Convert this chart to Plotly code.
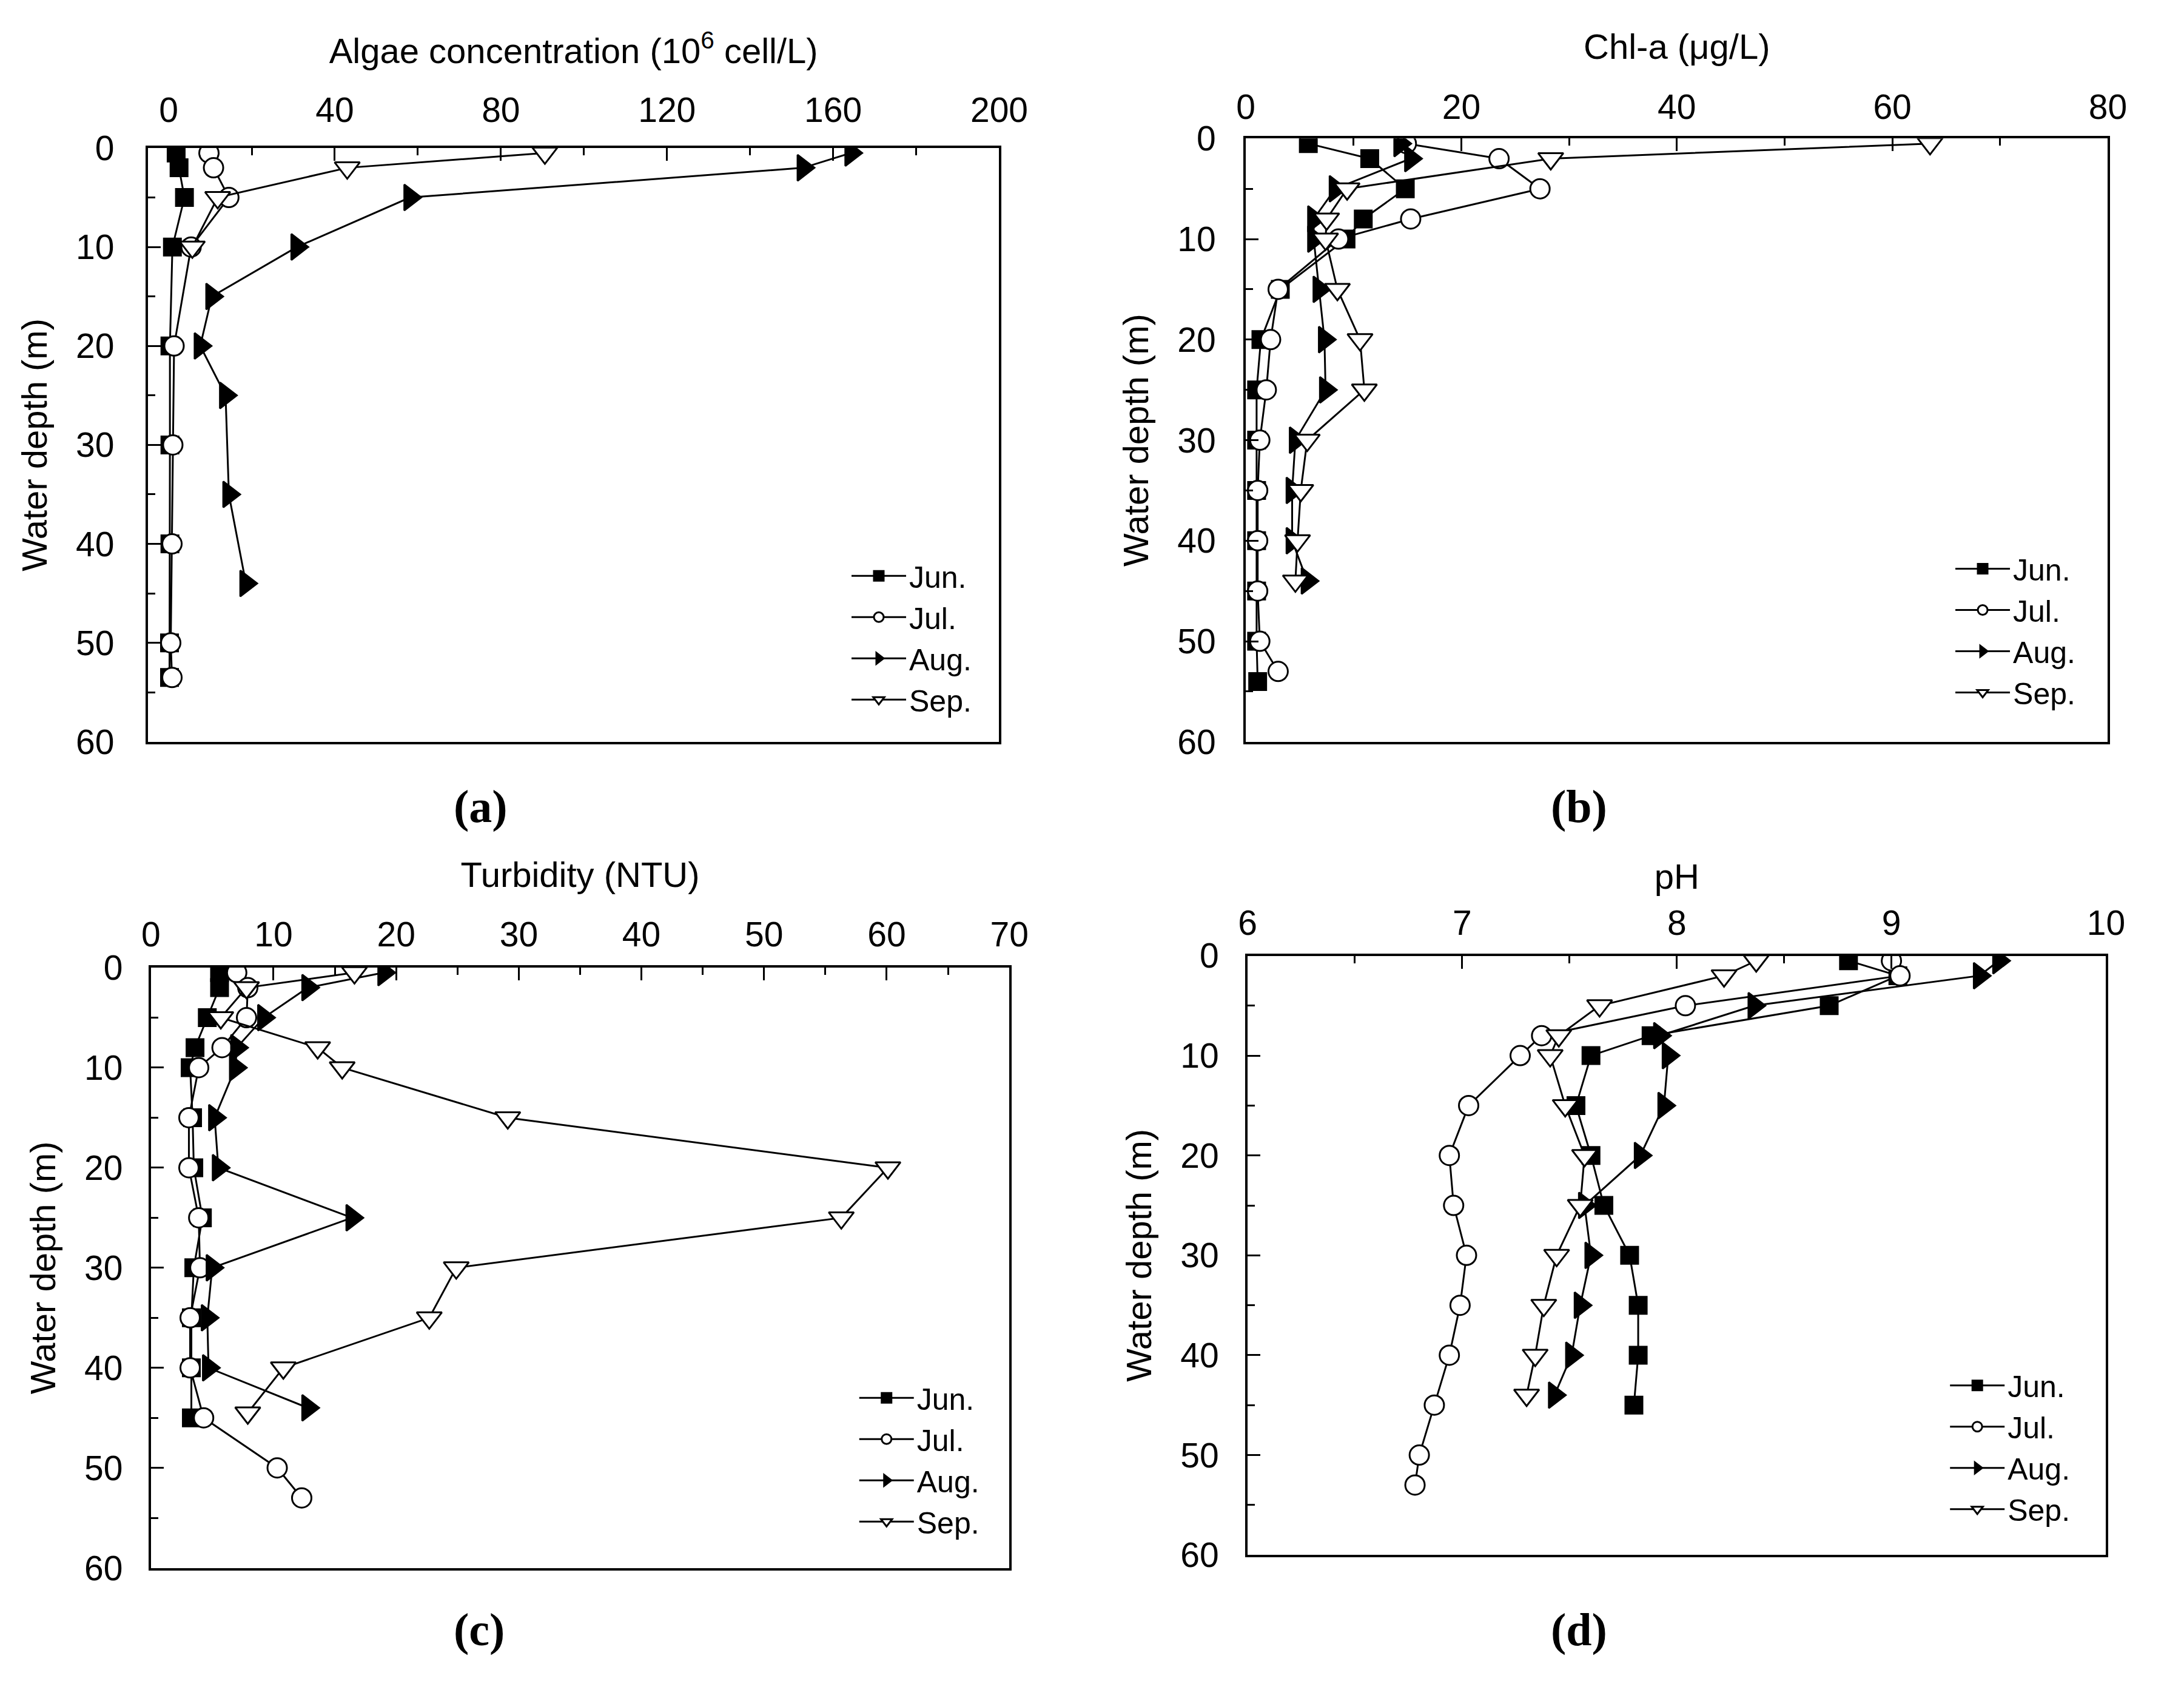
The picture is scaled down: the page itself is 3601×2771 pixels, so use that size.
import plotly.graph_objects as go

W, H = 3601, 2771

# ---------------- data ----------------
months = ["Jun.", "Jul.", "Aug.", "Sep."]

# (a) Algae concentration (10^6 cell/L)
a_jun_depth = [0.5, 2, 5, 10, 20, 30, 40, 50, 53.5]
a_jun_val = [1.8, 2.5, 3.8, 0.9, 0.3, 0.3, 0.3, 0.2, 0.2]
a_jul_depth = [0.5, 2, 5, 10, 20, 30, 40, 50, 53.5]
a_jul_val = [9.7, 10.8, 14.5, 5.4, 1.3, 1.0, 0.8, 0.5, 0.8]
a_aug_depth = [0.5, 2, 5, 10, 15, 20, 25, 35, 44]
a_aug_val = [164.3, 152.8, 58.1, 30.9, 10.4, 7.6, 13.7, 14.5, 18.6]
a_sep_depth = [0.5, 2, 5, 10]
a_sep_val = [90.6, 43.0, 11.8, 5.7]

# (b) Chl-a (ug/L)
b_jun_depth = [0.5, 2, 5, 8, 10, 15, 20, 25, 30, 35, 40, 45, 50, 54]
b_jun_val = [5.8, 11.5, 14.8, 10.9, 9.3, 3.2, 1.4, 1.0, 1.0, 1.0, 1.0, 1.0, 1.0, 1.1]
b_jul_depth = [0.5, 2, 5, 8, 10, 15, 20, 25, 30, 35, 40, 45, 50, 53]
b_jul_val = [14.9, 23.5, 27.3, 15.3, 8.6, 3.0, 2.3, 1.9, 1.3, 1.1, 1.1, 1.1, 1.3, 3.0]
b_aug_depth = [0.5, 2, 5, 8, 10, 15, 20, 25, 30, 35, 40, 44]
b_aug_val = [14.3, 15.3, 8.3, 6.3, 6.3, 6.8, 7.3, 7.4, 4.6, 4.3, 4.3, 5.7]
b_sep_depth = [0.5, 2, 5, 8, 10, 15, 20, 25, 30, 35, 40, 44]
b_sep_val = [63.5, 28.3, 9.4, 7.5, 7.4, 8.5, 10.6, 11.0, 5.7, 5.1, 4.8, 4.6]

# (c) Turbidity (NTU)
c_jun_depth = [0.5, 2, 5, 8, 10, 15, 20, 25, 30, 35, 40, 45]
c_jun_val = [5.6, 5.6, 4.6, 3.6, 3.2, 3.4, 3.5, 4.2, 3.5, 3.3, 3.3, 3.3]
c_jul_depth = [0.5, 2, 5, 8, 10, 15, 20, 25, 30, 35, 40, 45, 50, 53]
c_jul_val = [7.0, 7.9, 7.8, 5.8, 3.9, 3.1, 3.1, 3.9, 4.0, 3.2, 3.2, 4.3, 10.3, 12.3]
c_aug_depth = [0.5, 2, 5, 8, 10, 15, 20, 25, 30, 35, 40, 44]
c_aug_val = [19.0, 12.8, 9.2, 7.0, 6.9, 5.2, 5.5, 16.4, 5.0, 4.6, 4.7, 12.8]
c_sep_depth = [0.5, 2, 5, 8, 10, 15, 20, 25, 30, 35, 40, 44.5]
c_sep_val = [16.6, 7.8, 5.7, 13.6, 15.6, 29.1, 60.1, 56.3, 24.9, 22.7, 10.8, 7.9]

# (d) pH
d_jun_depth = [0.5, 2, 5, 8, 10, 15, 20, 25, 30, 35, 40, 45]
d_jun_val = [8.80, 9.03, 8.71, 7.88, 7.60, 7.53, 7.60, 7.66, 7.78, 7.82, 7.82, 7.80]
d_jul_depth = [0.5, 2, 5, 8, 10, 15, 20, 25, 30, 35, 40, 45, 50, 53]
d_jul_val = [9.00, 9.04, 8.04, 7.37, 7.27, 7.03, 6.94, 6.96, 7.02, 6.99, 6.94, 6.87, 6.80, 6.78]
d_aug_depth = [0.5, 2, 5, 8, 10, 15, 20, 25, 30, 35, 40, 44]
d_aug_val = [9.50, 9.41, 8.36, 7.92, 7.96, 7.94, 7.83, 7.57, 7.60, 7.55, 7.51, 7.43]
d_sep_depth = [0.5, 2, 5, 8, 10, 15, 20, 25, 30, 35, 40, 44]
d_sep_val = [8.37, 8.22, 7.64, 7.45, 7.41, 7.48, 7.57, 7.55, 7.44, 7.38, 7.34, 7.30]

panel_titles = [
    "Algae concentration (10<sup>6</sup> cell/L)",
    "Chl-a (μg/L)",
    "Turbidity (NTU)",
    "pH",
]
panel_labels = ["(a)", "(b)", "(c)", "(d)"]
y_title = "Water depth (m)"

# ---------------- styling / layout ----------------
FONT = "Liberation Sans, Arial, sans-serif"
symbols = ["square", "circle", "triangle-right", "triangle-down"]
fills = ["black", "white", "black", "white"]
msizes = [28, 32, 37, 36]

panels = [
    dict(data=[(a_jun_depth, a_jun_val), (a_jul_depth, a_jul_val), (a_aug_depth, a_aug_val), (a_sep_depth, a_sep_val)],
         xpx=(232, 1661), ypx=(217, 1219), xr=[-5, 200], dt=40, mt=20, t0=0,
         tstand=27, lstand=16, ylstand=40, ystand=30, leg=(1408, 899), lab=(791, 1328)),
    dict(data=[(b_jun_depth, b_jun_val), (b_jul_depth, b_jul_val), (b_aug_depth, b_aug_val), (b_sep_depth, b_sep_val)],
         xpx=(2075, 3522), ypx=(201, 1219), xr=[0, 80], dt=20, mt=10, t0=0,
         tstand=28, lstand=6, ylstand=34, ystand=30, leg=(3261, 887), lab=(2634, 1328)),
    dict(data=[(c_jun_depth, c_jun_val), (c_jul_depth, c_jul_val), (c_aug_depth, c_aug_val), (c_sep_depth, c_sep_val)],
         xpx=(237, 1678), ypx=(1600, 2613), xr=[0, 70], dt=10, mt=5, t0=0,
         tstand=28, lstand=8, ylstand=31, ystand=30, leg=(1421, 2286), lab=(788, 2717)),
    dict(data=[(d_jun_depth, d_jun_val), (d_jul_depth, d_jul_val), (d_aug_depth, d_aug_val), (d_sep_depth, d_sep_val)],
         xpx=(2078, 3519), ypx=(1580, 2591), xr=[6, 10], dt=1, mt=0.5, t0=6,
         tstand=5, lstand=8, ylstand=32, ystand=30, leg=(3252, 2265), lab=(2634, 2717)),
]

fig = go.Figure()
layout = dict(
    width=W, height=H,
    margin=dict(l=0, r=0, t=0, b=0),
    paper_bgcolor="white", plot_bgcolor="white",
    font=dict(family=FONT, size=57, color="black"),
    annotations=[],
)

for i, p in enumerate(panels):
    n = i + 1
    xa = "x" if n == 1 else f"x{n}"
    ya = "y" if n == 1 else f"y{n}"
    lg = "legend" if n == 1 else f"legend{n}"
    for k, (dep, val) in enumerate(p["data"]):
        fig.add_trace(go.Scatter(
            x=val, y=dep, mode="lines+markers", name=months[k],
            xaxis=xa, yaxis=ya, legend=lg, showlegend=True,
            line=dict(color="black", width=3),
            marker=dict(symbol=symbols[k], size=msizes[k], color=fills[k],
                        line=dict(color="black", width=3)),
        ))
    xdom = [p["xpx"][0] / W, p["xpx"][1] / W]
    ydom = [1 - p["ypx"][1] / H, 1 - p["ypx"][0] / H]
    common = dict(showline=True, linewidth=4, linecolor="black", mirror=True,
                  showgrid=False, zeroline=False, ticks="inside", ticklen=21,
                  tickwidth=3, tickcolor="black",
                  tickfont=dict(family=FONT, size=57, color="black"))
    layout["xaxis" if n == 1 else f"xaxis{n}"] = dict(
        domain=xdom, anchor=ya, side="top", range=p["xr"], tick0=p["t0"], dtick=p["dt"],
        minor=dict(dtick=p["mt"], tick0=p["t0"], ticks="inside", ticklen=12, tickwidth=3, tickcolor="black"),
        ticklabelstandoff=p["lstand"],
        title=dict(text=panel_titles[i], font=dict(family=FONT, size=58), standoff=p["tstand"]),
        **common)
    layout["yaxis" if n == 1 else f"yaxis{n}"] = dict(
        domain=ydom, anchor=xa, range=[60, 0], tick0=0, dtick=10,
        minor=dict(dtick=5, ticks="inside", ticklen=12, tickwidth=3, tickcolor="black"),
        ticklabelstandoff=p["ylstand"],
        title=dict(text=y_title, font=dict(family=FONT, size=58), standoff=p["ystand"]),
        **common)
    layout[lg] = dict(x=p["leg"][0] / W, y=1 - p["leg"][1] / H, xanchor="left", yanchor="top",
                      bgcolor="rgba(0,0,0,0)", borderwidth=0, itemwidth=90,
                      font=dict(family=FONT, size=50, color="black"), tracegroupgap=0)
    layout["annotations"].append(dict(
        text="<b>" + panel_labels[i] + "</b>", x=p["lab"][0] / W, y=1 - p["lab"][1] / H,
        xref="paper", yref="paper", showarrow=False, xanchor="center", yanchor="middle",
        font=dict(family="Liberation Serif, DejaVu Serif, serif", size=76, color="black")))

fig.update_layout(**layout)
fig.write_html("out.html", config={"displayModeBar": False},
               post_script="document.body.style.margin='0px';document.body.style.overflow='hidden';")
